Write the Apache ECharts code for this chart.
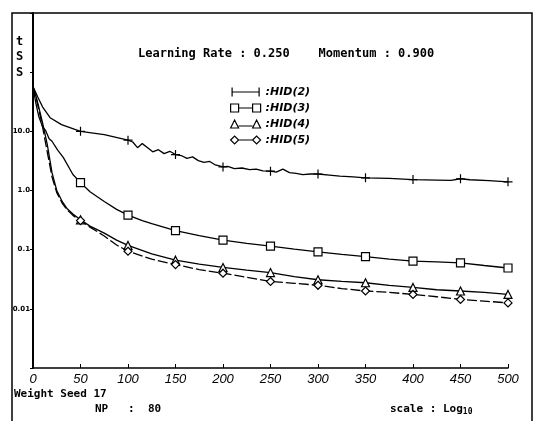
<!DOCTYPE html>
<html><head><meta charset="utf-8">
<script src="https://cdn.jsdelivr.net/npm/echarts@6/dist/echarts.min.js"></script>
<style>html,body{margin:0;padding:0;background:#fff}#c{width:537px;height:421px}</style>
</head><body><div id="c"></div>
<script>
// ---- data ----
const xTickLabels = ['0','50','100','150','200','250','300','350','400','450','500'];
const yTickLabels = {'-2':'0.01','-1':'0.1','0':'1.0','1':'10.0'};

const hid2X = [0,5,10,18,30,50,75,100,105,110,115,120,126,132,138,144,150,156,162,168,174,180,186,192,200,205,212,220,228,235,242,250,256,263,270,277,284,292,300,312,323,337,350,375,400,425,440,450,460,480,500];
const hid2Y = [57,38,26,17,13,10,8.8,7.1,6.6,5.3,6.2,5.4,4.5,4.9,4.2,4.6,4.05,3.9,3.5,3.7,3.2,3.0,3.1,2.7,2.5,2.55,2.35,2.4,2.25,2.3,2.15,2.12,2.05,2.3,2.0,1.95,1.86,1.9,1.9,1.82,1.75,1.7,1.64,1.6,1.53,1.5,1.48,1.58,1.52,1.47,1.40];

const hid3X = [0,3,6,10,13,17,20,26,32,42,50,60,75,88,100,115,125,150,175,200,225,250,275,300,325,350,375,400,425,450,475,500];
const hid3Y = [57,30,18,12,10.5,7.5,6.8,4.8,3.6,1.86,1.36,0.95,0.65,0.48,0.383,0.31,0.275,0.209,0.172,0.145,0.128,0.115,0.102,0.092,0.083,0.076,0.069,0.064,0.062,0.060,0.054,0.049];

const hid4X = [0,3,6,10,15,20,25,31,36,42,50,60,75,88,100,125,150,175,200,225,250,275,300,325,350,375,400,425,450,475,500];
const hid4Y = [57,40,26,14,6.0,2.0,1.0,0.64,0.49,0.40,0.32,0.25,0.19,0.145,0.118,0.085,0.0665,0.057,0.050,0.045,0.041,0.035,0.031,0.029,0.0276,0.025,0.023,0.021,0.020,0.019,0.0175];

const hid5X = [0,3,6,10,15,20,25,31,36,42,50,60,75,88,100,125,150,175,200,225,250,275,300,325,350,375,400,425,450,475,500];
const hid5Y = [57,38,24,12,4.5,1.7,0.92,0.60,0.47,0.38,0.31,0.24,0.17,0.12,0.094,0.069,0.056,0.046,0.040,0.034,0.029,0.027,0.025,0.022,0.020,0.019,0.0175,0.016,0.0144,0.0135,0.0126];

const seriesNames = ['HID(2)','HID(3)','HID(4)','HID(5)'];

// ---- build ----
const sym = {
  plus: 'path://M5,0 L5,10 M0,5 L10,5',
  square: 'rect',
  triangle: 'triangle',
  diamond: 'diamond'
};
const legIcon = [
  'path://M0,0 L0,10 M0,5 L30,5 M30,0 L30,10',
  'path://M0,1 L8,1 L8,9 L0,9 Z M8,5 L22,5 M22,1 L30,1 L30,9 L22,9 Z',
  'path://M0,9 L4,1 L8,9 Z M8,7 L22,7 M22,9 L26,1 L30,9 Z',
  'path://M0,5 L4,1 L8,5 L4,9 Z M8,5 L22,5 M22,5 L26,1 L30,5 L26,9 Z'
];
function mk(xs, ys) {
  return xs.map((x, i) => {
    const it = { value: [x, ys[i]] };
    if (!(x > 0 && x % 50 === 0)) it.symbol = 'none';
    return it;
  });
}
function line(name, xs, ys, symbol, size, dashed) {
  return {
    name, type: 'line', data: mk(xs, ys), symbol, symbolSize: size,
    smooth: false, animation: false,
    lineStyle: { color: '#000', width: 1.3, type: dashed ? [10, 3] : 'solid' },
    itemStyle: { color: '#fff', borderColor: '#000', borderWidth: 1.2 }
  };
}

const chart = echarts.init(document.getElementById('c'), null, { renderer: 'canvas' });
const mono = 'DejaVu Sans Mono';
chart.setOption({
  backgroundColor: '#fff',
  animation: false,
  title: [
    { text: 'Learning Rate : 0.250    Momentum : 0.900', left: 138, top: 48, padding: 0,
      textStyle: { fontFamily: mono, fontWeight: 'bold', fontSize: 12, color: '#000' } },
    { text: 't\nS\nS', left: 16, top: 34, padding: 0,
      textStyle: { fontFamily: mono, fontWeight: 'bold', fontSize: 12, lineHeight: 15.5, color: '#000' } },
    { text: 'Weight Seed 17', left: 14, top: 389, padding: 0,
      textStyle: { fontFamily: mono, fontWeight: 'bold', fontSize: 11, color: '#000' } },
    { text: 'NP   :  80', left: 95, top: 404, padding: 0,
      textStyle: { fontFamily: mono, fontWeight: 'bold', fontSize: 11, color: '#000' } },
    { text: '{a|scale : Log}{s|10}', left: 390, top: 403, padding: 0,
      textStyle: { rich: {
        a: { fontFamily: mono, fontWeight: 'bold', fontSize: 11, color: '#000' },
        s: { fontFamily: mono, fontWeight: 'bold', fontSize: 8, color: '#000', padding: [5, 0, 0, 0] } } } }
  ],
  legend: {
    orient: 'vertical', left: 230, top: 86, padding: 0,
    itemWidth: 30, itemHeight: 9, itemGap: 4,
    data: seriesNames.map((n, i) => ({ name: n, icon: legIcon[i] })),
    itemStyle: { color: '#fff', borderColor: '#000', borderWidth: 1.2 },
    formatter: n => ':' + n,
    textStyle: { fontFamily: 'DejaVu Sans', fontWeight: 'bold', fontStyle: 'italic', fontSize: 11, color: '#000', lineHeight: 12 }
  },
  grid: { left: 33, right: 29, top: 13, bottom: 53 },
  xAxis: {
    type: 'value', min: 0, max: 500, interval: 50,
    axisLine: { lineStyle: { color: '#000', width: 1.5 } },
    axisTick: { inside: true, length: 4, lineStyle: { color: '#000' } },
    splitLine: { show: false },
    axisLabel: { margin: 5, color: '#000', fontFamily: 'Liberation Sans', fontStyle: 'italic', fontSize: 13,
      formatter: v => xTickLabels[Math.round(v / 50)] }
  },
  yAxis: {
    type: 'log', logBase: 10, min: 0.001, max: 1000,
    axisLine: { show: true, lineStyle: { color: '#000', width: 2 } },
    axisTick: { show: true, inside: false, length: 3, lineStyle: { color: '#000' } },
    splitLine: { show: false },
    axisLabel: { margin: 3, color: '#000', fontFamily: 'DejaVu Sans', fontWeight: 'bold', fontSize: 7,
      formatter: v => { const k = String(Math.round(Math.log10(v))); return yTickLabels[k] || ''; } }
  },
  graphic: [
    { type: 'rect', silent: true, z: 100,
      shape: { x: 12, y: 13, width: 520, height: 420 },
      style: { fill: 'none', stroke: '#000', lineWidth: 1.5 } }
  ],
  series: [
    line(seriesNames[0], hid2X, hid2Y, sym.plus, 9, false),
    line(seriesNames[1], hid3X, hid3Y, sym.square, 8, false),
    line(seriesNames[2], hid4X, hid4Y, sym.triangle, 8, false),
    line(seriesNames[3], hid5X, hid5Y, sym.diamond, 8, true)
  ]
});
</script></body></html>
